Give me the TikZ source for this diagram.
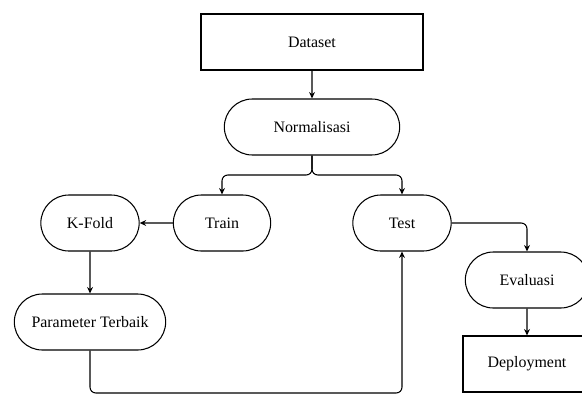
\documentclass[tikz,border=0pt]{standalone}
\usepackage{fontspec}
\setmainfont{Liberation Serif}
\usepackage{tikz}
\usetikzlibrary{shapes.misc}
\usetikzlibrary{arrows.meta}
\newcommand{\heightbox}{16.8mm}
\tikzset{
    common/.style={draw, line width=0.9pt, minimum height=\heightbox, inner sep=2pt,
        font=\fontsize{13.6}{16}\selectfont},
    box/.style={common, rectangle},
    pill/.style={common, rounded rectangle},
    flow/.style={line width=0.9pt, -{Stealth[length=5.5pt,width=5pt]}},
    loop/.style={flow, rounded corners=5pt}
}
\begin{document}
\begin{tikzpicture}[x=0.03cm, y=-0.03cm]
    \useasboundingbox (0,0) rectangle (582,396);
    \clip (0,0) rectangle (582,396);
    \node[box, minimum width=66.6mm] (dataset) at (312,42) {Dataset};
    \node[pill, minimum width=54mm] (norm) at (312,127) {Normalisasi};
    \node[pill, minimum width=30.6mm] (train) at (222,223) {Train};
    \node[pill, minimum width=30.9mm] (kfold) at (90,223) {K-Fold};
    \node[pill, minimum width=30.9mm] (test) at (402,223) {Test};
    \node[pill, minimum width=46.8mm] (param) at (90,322) {Parameter Terbaik};
    \node[pill, minimum width=38.4mm] (eval) at (527,280) {Evaluasi};
    \node[box, minimum width=38.4mm] (deploy) at (527,364) {Deployment};
    \coordinate (split) at (312,175);
    \coordinate (under) at (90,393);
    % arrows
    \draw[flow] (dataset) -- (norm);
    \draw[loop] (norm.south) -- (split) -| (train.north);
    \draw[loop] (norm.south) -- (split) -| (test.north);
    \draw[flow] (train) -- (kfold);
    \draw[flow] (kfold) -- (param);
    \draw[loop] (param.south) -- (under) -| (test.south);
    \draw[loop] (test.east) -| (eval.north);
    \draw[flow] (eval) -- (deploy);
\end{tikzpicture}
\end{document}
